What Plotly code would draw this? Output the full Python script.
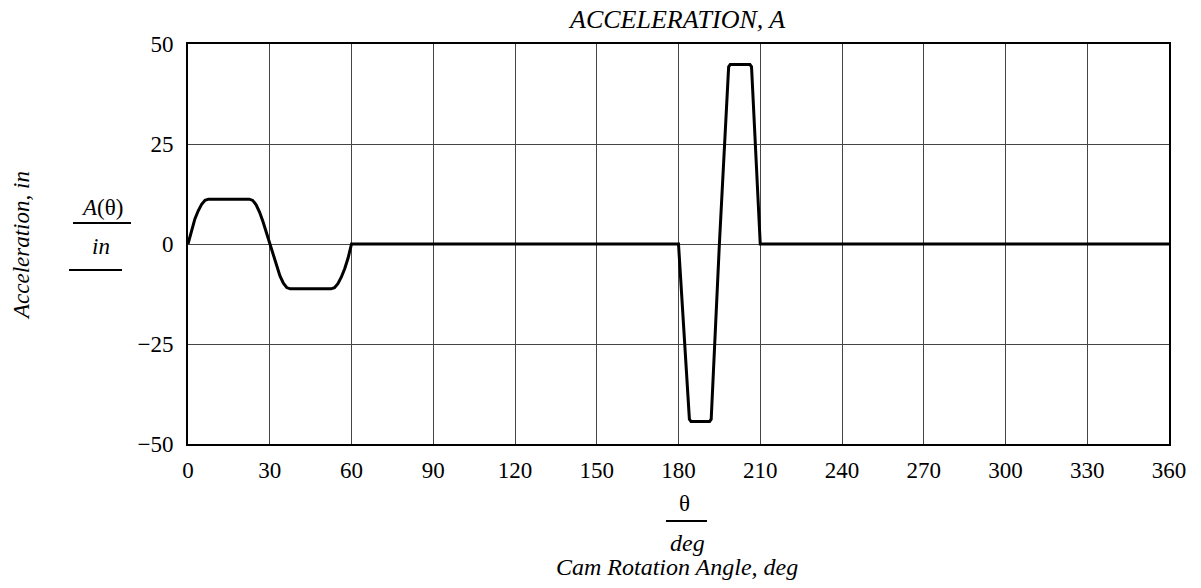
import plotly.graph_objects as go

# ---- data ----
theta_deg = [0, 1.25, 2.5, 3.75, 5, 6.25, 7.5, 22.5, 23.75, 25, 26.25, 27.5, 28.75, 30,
             31.25, 32.5, 33.75, 35, 36.25, 37.5, 52.5, 53.75, 55, 56.25, 57.5, 58.75, 60,
             180, 184, 184.6, 191.4, 192, 195, 198.4, 199, 206.2, 206.8, 210, 360]
accel_in = [0, 3.5, 6.2, 8.3, 9.9, 10.9, 11.2, 11.2, 10.9, 9.8, 8.0, 5.6, 2.9, 0,
            -2.9, -5.6, -8.0, -9.8, -10.9, -11.2, -11.2, -10.9, -9.9, -8.3, -6.2, -3.5, 0,
            0, -43.8, -44.4, -44.4, -43.8, 0, 44.3, 44.9, 44.9, 44.3, 0, 0]

x_ticks = [0, 30, 60, 90, 120, 150, 180, 210, 240, 270, 300, 330, 360]
y_ticks = [-50, -25, 0, 25, 50]

FONT = "Times New Roman, Liberation Serif, DejaVu Serif, serif"
W, H = 1201, 588
L, R, T, B = 188, 32, 44, 144
PW, PH = W - L - R, H - T - B


def px(x):
    return (x - L) / PW


def py(y):
    return (H - B - y) / PH


fig = go.Figure()
fig.add_trace(go.Scatter(x=theta_deg, y=accel_in, mode="lines",
                         line=dict(color="black", width=3), showlegend=False))

fig.update_xaxes(range=[0, 360], tickvals=x_ticks, showgrid=True, gridcolor="#444444",
                 gridwidth=1, zeroline=False, showline=True, linecolor="black", linewidth=2,
                 mirror=True, ticks="", ticklabelstandoff=4,
                 tickfont=dict(family=FONT, size=23, color="black"))
fig.update_yaxes(range=[-50, 50], tickvals=y_ticks, showgrid=True, gridcolor="#444444",
                 gridwidth=1, zeroline=False, showline=True, linecolor="black", linewidth=2,
                 mirror=True, ticks="", ticklabelstandoff=8,
                 tickfont=dict(family=FONT, size=23, color="black"))

ann = []
def text(t, x, y, size=23, italic=True, angle=0):
    s = f"<i>{t}</i>" if italic else t
    ann.append(dict(text=s, x=px(x), y=py(y), xref="paper", yref="paper",
                    showarrow=False, xanchor="center", yanchor="middle", textangle=angle,
                    font=dict(family=FONT, size=size, color="black")))

text("ACCELERATION, A", 676, 19, size=26)
text("Acceleration, in", 21, 246, size=23, angle=-90)
text("<i>A</i>(θ)", 102, 207, size=23, italic=False)
text("in", 101, 246, size=23)
text("θ", 684, 503, size=23, italic=False)
text("deg", 687, 543, size=24)
text("Cam Rotation Angle, deg", 677, 567, size=24)

shapes = [
    dict(type="line", xref="paper", yref="paper", x0=px(73), x1=px(131), y0=py(223), y1=py(223),
         line=dict(color="black", width=2)),
    dict(type="line", xref="paper", yref="paper", x0=px(69), x1=px(122), y0=py(270), y1=py(270),
         line=dict(color="black", width=2)),
    dict(type="line", xref="paper", yref="paper", x0=px(666), x1=px(707), y0=py(521), y1=py(521),
         line=dict(color="black", width=2)),
]

fig.update_layout(width=W, height=H, margin=dict(l=L, r=R, t=T, b=B),
                  plot_bgcolor="white", paper_bgcolor="white",
                  font=dict(family=FONT, color="black"),
                  annotations=ann, shapes=shapes, showlegend=False)

fig.write_html("out.html")
